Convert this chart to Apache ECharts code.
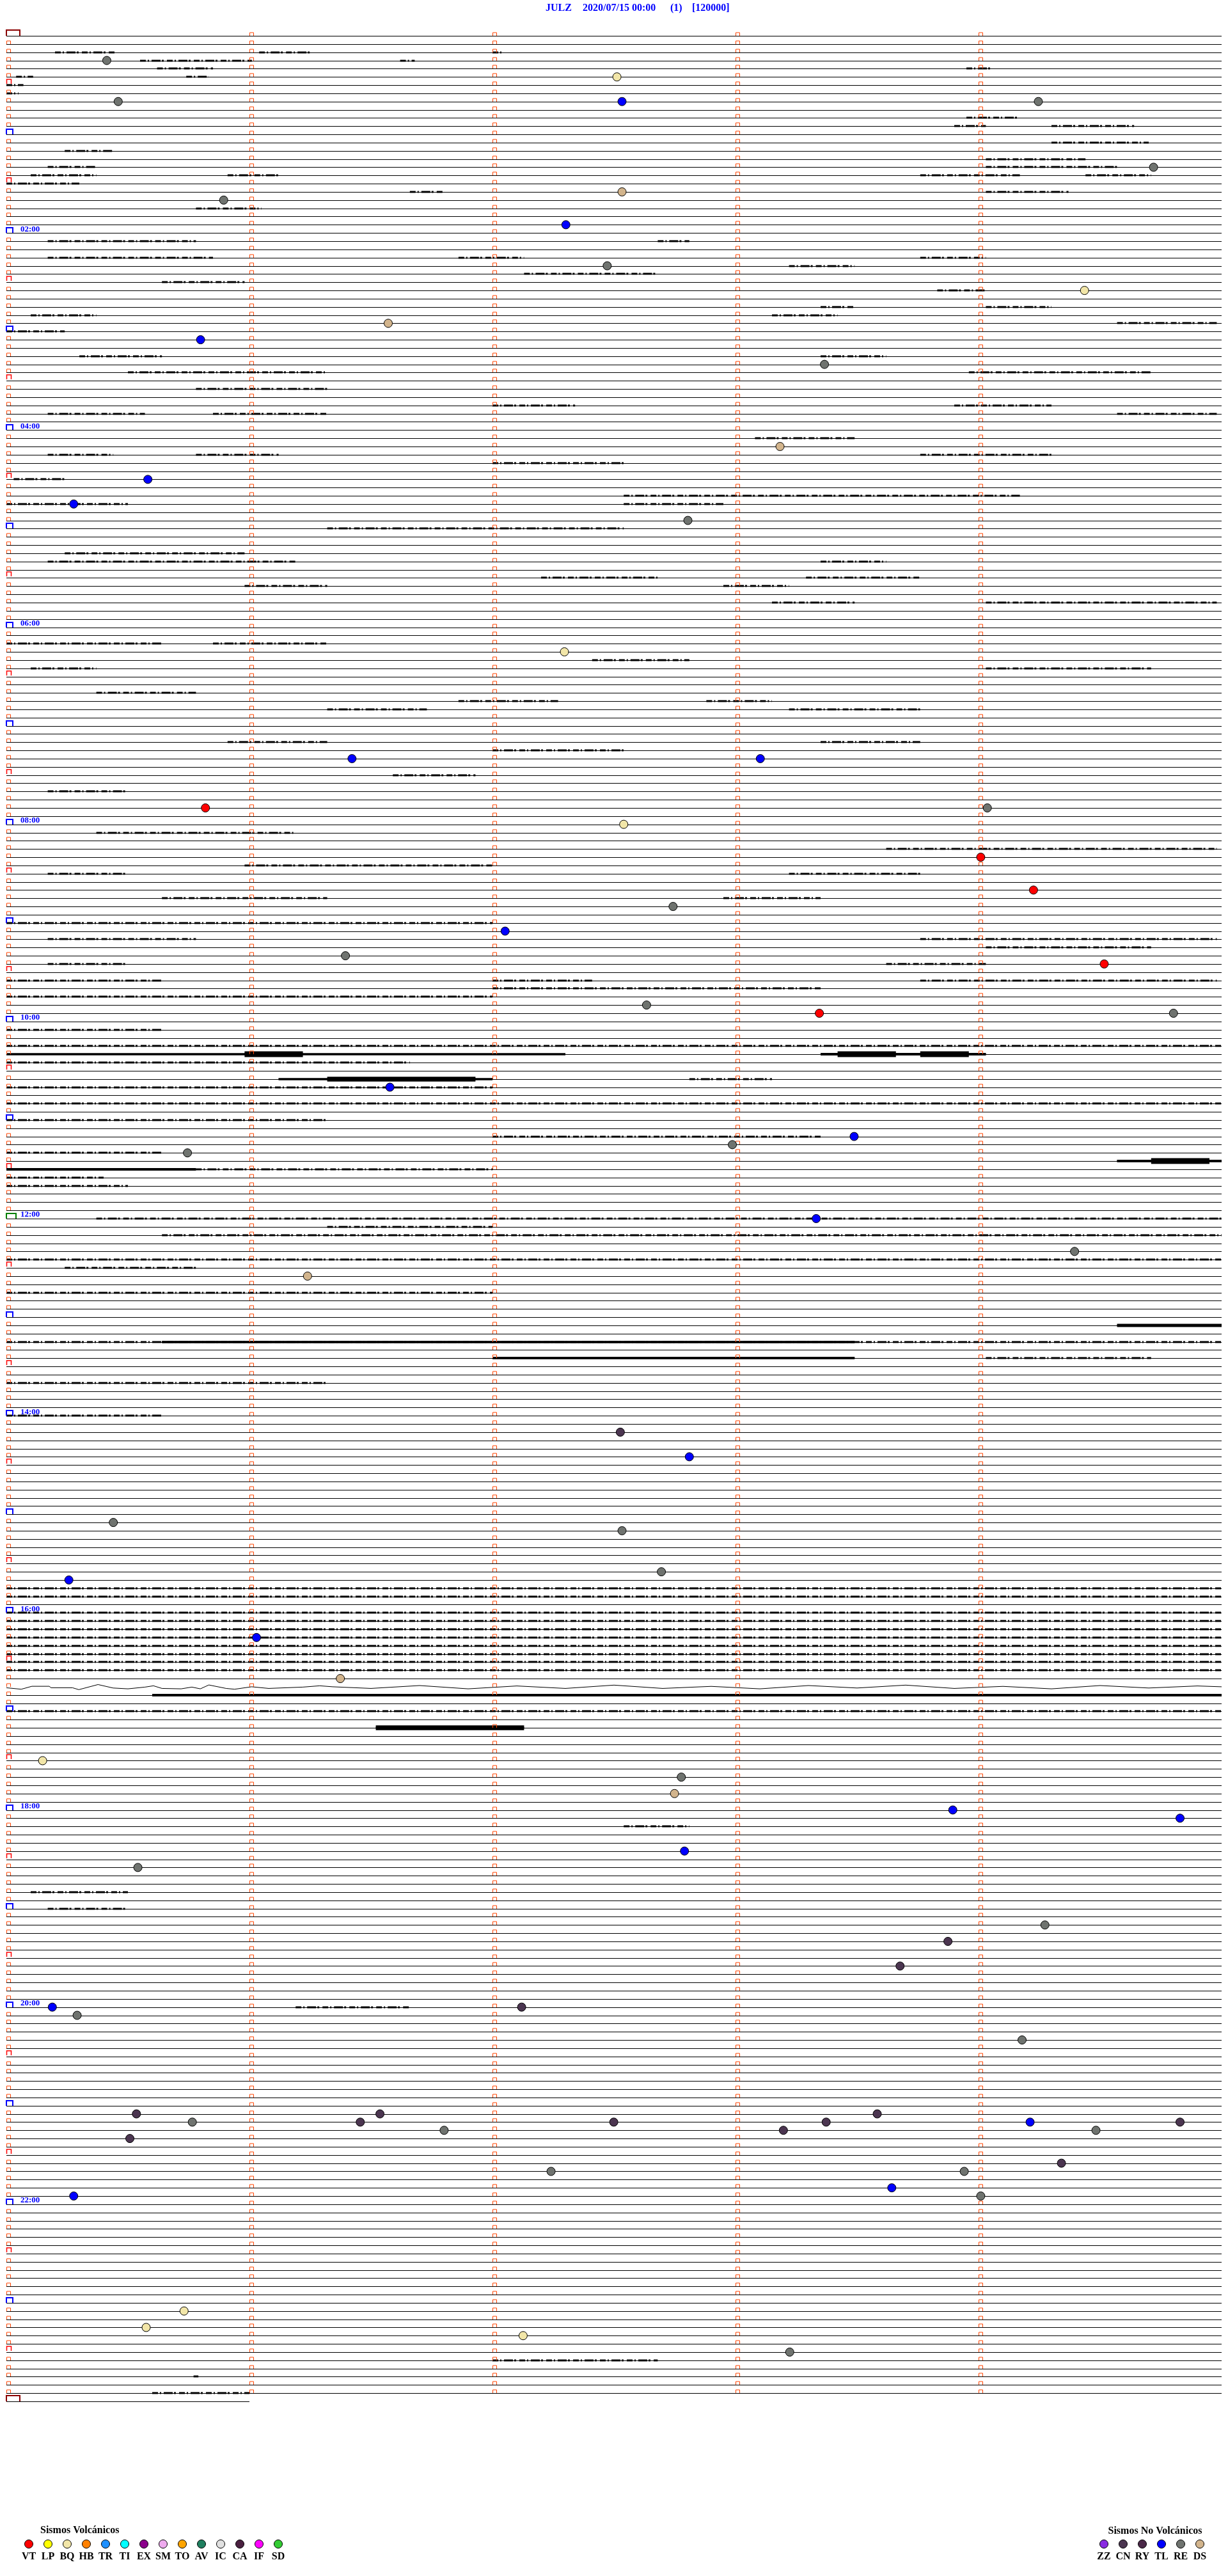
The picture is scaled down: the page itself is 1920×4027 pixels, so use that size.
<!DOCTYPE html>
<html><head><meta charset="utf-8">
<script src="https://cdn.jsdelivr.net/npm/echarts@6/dist/echarts.min.js"></script>
<style>html,body{margin:0;padding:0;background:#fff}#c{width:1920px;height:4027px}</style>
</head><body><div id="c"></div>
<script>
// ---------------- DATA ----------------
const titleParts = ['JULZ', '2020/07/15 00:00', '(1)', '[120000]'];
const minutesPerLine = 5;          // each trace = 5 minutes
const fullLines = 288;             // 24 h
const lastLineMinutes = 1;         // partial trace at the end
const hourLabels = ['02:00','04:00','06:00','08:00','10:00','12:00','14:00','16:00','18:00','20:00','22:00'];
const hourLabelLines = [24,48,72,96,120,144,168,192,216,240,264];

// events: [traceLine, minute]
const eventsRE = [[3,0.413],[8,0.460],[8,4.246],[16,4.720],[20,0.894],[28,2.472],[40,3.366],[59,2.804],[94,4.036],[106,2.743],[112,1.395],[118,2.634],[119,4.802],[135,2.987],[136,0.745],[148,4.395],[181,0.440],[182,2.533],[187,2.695],[212,2.777],[223,0.541],[230,4.273],[241,0.291],[244,4.179],[254,0.765],[255,1.801],[255,4.483],[260,2.241],[260,3.941],[263,4.009],[282,3.223]];
const eventsTL = [[8,2.533],[23,2.302],[37,0.799],[54,0.582],[57,0.277],[88,1.422],[88,3.102],[109,2.052],[128,1.578],[134,3.488],[144,3.332],[173,2.810],[188,0.257],[195,1.029],[216,3.894],[217,4.829],[221,2.790],[240,0.189],[254,4.212],[262,3.643],[263,0.277]];
const eventsBQ = [[5,2.512],[31,4.436],[75,2.296],[96,2.540],[210,0.149],[277,0.731],[279,0.575],[280,2.126]];
const eventsDS = [[19,2.533],[35,1.571],[50,3.183],[151,1.239],[200,1.374],[214,2.749]];
const eventsVT = [[94,0.819],[100,4.009],[104,4.226],[113,4.517],[119,3.345]];
const eventsCN = [[170,2.526],[232,3.874],[235,3.677],[240,2.120],[253,0.535],[253,1.537],[254,1.456],[254,2.499],[253,3.583],[254,3.373],[254,4.829],[256,0.508],[255,3.197],[259,4.341]];

// signal activity: [traceLine, startMinute, endMinute, halfAmplitude (in trace units)]
const bursts = [
[2,0.2,0.45,.07],[2,1.04,1.25,.07],[2,2.0,2.04,.07],
[3,0.55,1.01,.07],[3,1.62,1.68,.07],
[4,0.62,0.85,.06],[4,3.95,4.05,.06],
[5,0.04,0.11,.06],[5,0.74,0.83,.06],[6,0,0.07,.06],[7,0,0.05,.06],
[10,3.95,4.17,.06],[11,3.9,4.03,.06],[11,4.3,4.64,.06],[13,4.3,4.7,.06],[14,0.24,0.44,.06],
[15,4.03,4.44,.06],[16,0.17,0.37,.06],[16,4.03,4.57,.06],
[17,0.1,0.37,.06],[17,0.91,1.12,.06],[17,3.76,4.17,.06],[17,4.44,4.71,.06],
[18,0,0.3,.06],[19,1.66,1.8,.06],[19,4.03,4.37,.06],[21,0.78,1.05,.06],
[25,0.17,0.78,.06],[25,2.68,2.81,.06],[27,0.17,0.85,.06],[27,1.86,2.13,.06],[27,3.76,4.03,.06],
[28,3.22,3.49,.06],[29,2.13,2.68,.06],[30,0.64,0.98,.06],[31,3.83,4.03,.06],
[33,3.35,3.49,.06],[33,4.03,4.3,.06],[34,0.1,0.37,.06],[34,3.15,3.42,.06],[35,4.57,4.98,.06],[36,0,0.24,.06],
[39,0.3,0.64,.06],[39,3.35,3.62,.06],[41,0.5,1.32,.06],[41,3.96,4.71,.06],[43,0.78,1.32,.06],
[45,2.0,2.34,.06],[45,3.9,4.3,.06],[46,0.17,0.57,.06],[46,0.85,1.32,.06],[46,4.57,4.98,.06],
[49,3.08,3.49,.06],[51,0.17,0.44,.06],[51,0.78,1.12,.06],[51,3.76,4.3,.06],[52,2.0,2.54,.06],
[54,0.03,0.24,.06],[56,2.54,4.17,.07],[57,0,0.5,.06],[57,2.54,2.95,.06],[60,1.32,2.54,.06],
[63,0.24,0.98,.06],[64,0.17,1.19,.06],[64,3.35,3.62,.06],[66,2.2,2.68,.06],[66,3.29,3.76,.06],
[67,0.98,1.32,.06],[67,2.95,3.22,.06],[69,3.15,3.49,.06],[69,4.03,4.98,.06],
[74,0,0.64,.06],[74,0.85,1.32,.06],[76,2.41,2.81,.06],[77,0.1,0.37,.06],[77,4.03,4.71,.06],
[80,0.37,0.78,.06],[81,1.86,2.27,.06],[81,2.88,3.15,.06],[82,1.32,1.73,.06],[82,3.22,3.76,.06],
[86,0.91,1.32,.06],[86,3.35,3.76,.06],[87,2.0,2.54,.06],[90,1.59,1.93,.06],[92,0.17,0.5,.06],
[97,0.37,1.19,.06],[99,3.62,4.98,.07],[101,0.98,2.0,.06],[102,0.17,0.5,.06],[102,3.22,3.76,.06],
[105,0.64,1.32,.06],[105,2.95,3.35,.06],[108,0,2.0,.09],[110,0.17,0.78,.06],[110,3.76,4.98,.07],
[111,4.03,4.71,.06],[113,0.17,0.5,.06],[113,3.62,4.03,.06],[115,0,0.64,.06],[115,2.0,2.41,.06],[115,3.76,4.98,.07],
[116,2.0,3.35,.06],[117,0,2.0,.06],[121,0,0.64,.06],[123,0,5,.06],
[124,0,2.3,.12],[124,0.98,1.22,.35],[124,3.35,4.03,.15],[124,3.42,3.66,.35],[124,3.76,3.96,.35],
[125,0,1.66,.08],[127,1.12,2.0,.12],[127,1.32,1.93,.3],[127,2.81,3.15,.08],[128,0,2.0,.08],
[130,0,5,.08],[132,0,1.32,.08],[134,2.0,3.35,.08],[136,0,0.64,.08],
[137,4.57,5,.15],[137,4.71,4.95,.35],[138,0,0.78,.15],[138,0.78,2.0,.08],[139,0,0.4,.08],[140,0,0.5,.08],
[144,0.37,5,.08],[145,1.32,2.0,.08],[146,0.64,5,.08],[149,0,5,.08],[150,0.24,0.78,.06],[153,0,2.0,.08],
[157,4.57,5,.2],[159,0,5,.08],[159,0.64,3.49,.13],[161,2.0,3.49,.13],[161,4.03,4.71,.08],[164,0,1.32,.08],[168,0,0.64,.06],
[189,0,5,.07],[190,0,5,.07],[192,0,5,.09],[193,0,5,.09],[194,0,5,.07],[195,0,5,.08],[196,0,5,.07],
[197,0,5,.07],[198,0,5,.06],[199,0,5,.06],[202,0.6,5,.16],[204,0,5,.06],[206,1.52,2.13,.3],
[218,2.54,2.81,.06],[226,0.1,0.5,.06],[228,0.17,0.5,.06],[240,1.19,1.66,.06],[283,2.0,2.68,.06],
[285,0.77,0.79,.06],[287,0.6,1.0,.06]
];
const heavyThreshold = 0.1;  // above this, activity drawn as a filled band

// long-period wandering trace: [minute, trace position]
const waveLine = 201;
const wavePoints = [[0,201.12],[0.061,201.30],[0.105,200.94],[0.176,200.94],[0.184,201.12],[0.272,201.12],[0.298,201.35],[0.377,200.73],[0.439,201.15],[0.5,201.25],[0.570,201.04],[0.605,200.88],[0.640,201.2],[0.719,201.25],[0.763,201.04],[0.798,201.25],[0.833,200.78],[0.904,201.2],[0.939,201.30],[1.009,201.0],[1.079,201.2],[1.219,201.04],[1.289,200.88],[1.342,201.0],
[1.5,201.2],[1.7,200.85],[1.9,201.25],[2.1,200.9],[2.3,201.2],[2.5,200.8],[2.7,201.2],[2.9,200.95],[3.1,201.25],[3.3,200.85],[3.5,201.15],[3.7,200.8],[3.9,201.2],[4.1,200.95],[4.3,201.25],[4.5,200.85],[4.7,201.15],[4.9,200.9],[5,201.0]];

// legend
const volcTypes  = ['VT','LP','BQ','HB','TR','TI','EX','SM','TO','AV','IC','CA','IF','SD'];
const volcColors = ['#ff0000','#ffff00','#f2e6a8','#ff8000','#1e90ff','#00ffff','#8b008b','#eeaaee','#ffa500','#1f7f5f','#e0e0e0','#4a2040','#ff00ff','#33cc33'];
const nonVolcTypes  = ['ZZ','CN','RY','TL','RE','DS'];
const nonVolcColors = ['#8a2be2','#4b3550','#4a2848','#0000ff','#6f736f','#d2b48c'];

// ---------------- STYLE / LAYOUT ----------------
const SERIF = "'Liberation Serif','DejaVu Serif',serif";
const typeColor = {}; volcTypes.forEach((t,i)=>typeColor[t]=volcColors[i]); nonVolcTypes.forEach((t,i)=>typeColor[t]=nonVolcColors[i]);
const markSpec = {
  0:{w:6,h:5,gap:0,lw:1,color:'#ff4500',dx:0.5},
  1:{w:7,h:9,gap:2,lw:1.5,color:'#ff0000',dx:0.5},
  2:{w:10,h:8,gap:0,lw:2,color:'#0000ff',dx:0},
  3:{w:15,h:8,gap:0,lw:2,color:'#008000',dx:0},
  4:{w:21,h:9,gap:0,lw:2,color:'#8b0000',dx:0}
};

const traceData = [];
for (let i = 0; i <= fullLines; i++) {
  if (i === waveLine) continue;
  traceData.push([i, 0, i === fullLines ? lastLineMinutes : minutesPerLine]);
}
const markData = [];
for (let i = 0; i <= fullLines; i++) {
  let kind = 0;
  if (i % 288 === 0) kind = 4; else if (i === 144) kind = 3; else if (i % 12 === 0) kind = 2; else if (i % 6 === 0) kind = 1;
  markData.push([i, 0, kind]);
  if (i < fullLines) for (let k = 1; k < minutesPerLine; k++) markData.push([i, k, 0]);
}

const chart = echarts.init(document.getElementById('c'), null, {renderer:'canvas', width:1920, height:4027});

function evSeries(name, data, color){
  return {type:'scatter', name, data:data.map(d=>[d[1], d[0]]), symbol:'circle', symbolSize:13,
    itemStyle:{color, borderColor:'#000', borderWidth:1, opacity:1}, z:10, silent:true, animation:false};
}

const graphic = [];
const titleX = [853, 911, 1048, 1082];
titleParts.forEach((t,i)=>graphic.push({type:'text', x:titleX[i], y:13, style:{text:t, fill:'#0000ff', font:'bold 16px '+SERIF, textVerticalAlign:'middle'}}));
graphic.push({type:'text', left:63, top:3948, style:{text:'Sismos Volcánicos', fill:'#000', font:'bold 16px '+SERIF}});
volcTypes.forEach((t,i)=>{
  const cx = 45 + 30*i;
  graphic.push({type:'circle', shape:{cx, cy:3977, r:6.5}, style:{fill:volcColors[i], stroke:'#000', lineWidth:1}});
  graphic.push({type:'text', x:cx, y:3997, style:{text:t, fill:'#000', font:'bold 16px '+SERIF, textAlign:'center', textVerticalAlign:'middle'}});
});
graphic.push({type:'text', x:1806, y:3957, style:{text:'Sismos No Volcánicos', fill:'#000', font:'bold 16px '+SERIF, textAlign:'center', textVerticalAlign:'middle'}});
nonVolcTypes.forEach((t,i)=>{
  const cx = 1726 + 30*i;
  graphic.push({type:'circle', shape:{cx, cy:3977, r:6.5}, style:{fill:nonVolcColors[i], stroke:'#000', lineWidth:1}});
  graphic.push({type:'text', x:cx, y:3997, style:{text:t, fill:'#000', font:'bold 16px '+SERIF, textAlign:'center', textVerticalAlign:'middle'}});
});

chart.setOption({
  animation:false,
  backgroundColor:'#ffffff',
  grid:{left:10, right:10, top:56, bottom:273},
  xAxis:{type:'value', min:0, max:minutesPerLine, show:false},
  yAxis:{type:'value', min:0, max:fullLines, inverse:true, show:false},
  graphic,
  series:[
    {type:'custom', name:'traces', data:traceData, encode:{x:[1,2], y:0}, silent:true, z:1, clip:false,
      renderItem(params, api){
        const i=api.value(0), a=api.coord([api.value(1), i]), b=api.coord([api.value(2), i]);
        const y=Math.round(a[1])+0.5;
        return {type:'line', shape:{x1:a[0], y1:y, x2:b[0], y2:y}, style:{stroke:'#000', lineWidth:1}};
      }},
    {type:'line', name:'wave', data:wavePoints, showSymbol:false, silent:true, z:2, smooth:false,
      lineStyle:{color:'#000', width:1}},
    {type:'custom', name:'bursts', data:bursts, encode:{x:[1,2], y:0}, silent:true, z:3, clip:false,
      renderItem(params, api){
        const i=api.value(0), amp=api.value(3);
        const a=api.coord([api.value(1), i-amp]), b=api.coord([api.value(2), i+amp]);
        const yc=Math.round((a[1]+b[1])/2);
        if (amp < heavyThreshold) {
          return {type:'line', shape:{x1:a[0], y1:yc, x2:b[0], y2:yc},
            style:{stroke:'#000', lineWidth:3, lineDash:[9,3,2,4,14,2,3,5]}};
        }
        const h=b[1]-a[1];
        return {type:'group', children:[
          {type:'line', shape:{x1:a[0], y1:yc, x2:b[0], y2:yc}, style:{stroke:'#000', lineWidth:3}},
          {type:'rect', shape:{x:a[0], y:yc-h/2, width:Math.max(1,b[0]-a[0]), height:h},
            style:{fill:'#000', lineDash:null}, }
        ]};
      }},
    {type:'custom', name:'marks', data:markData, encode:{x:1, y:0}, silent:true, z:4, clip:false,
      renderItem(params, api){
        const s=markSpec[api.value(2)], p=api.coord([api.value(1), api.value(0)]);
        const x=Math.round(p[0])+s.dx, y=Math.round(p[1]);
        return {type:'polyline', shape:{points:[[x,y-s.gap],[x,y-s.h],[x+s.w,y-s.h],[x+s.w,y-s.gap]]},
          style:{stroke:s.color, lineWidth:s.lw, fill:null}};
      }},
    {type:'custom', name:'hours', data:hourLabelLines.map((l,i)=>[l, 0, i]), encode:{x:1, y:0}, silent:true, z:5, clip:false,
      renderItem(params, api){
        const p=api.coord([0, api.value(0)]);
        return {type:'text', x:p[0]+22, y:p[1]-6, style:{text:hourLabels[api.value(2)], fill:'#0000ff',
          font:'bold 13px '+SERIF, textVerticalAlign:'middle'}};
      }},
    evSeries('RE', eventsRE, typeColor.RE),
    evSeries('TL', eventsTL, typeColor.TL),
    evSeries('BQ', eventsBQ, typeColor.BQ),
    evSeries('DS', eventsDS, typeColor.DS),
    evSeries('VT', eventsVT, typeColor.VT),
    evSeries('CN', eventsCN, typeColor.CN)
  ]
});
</script></body></html>
